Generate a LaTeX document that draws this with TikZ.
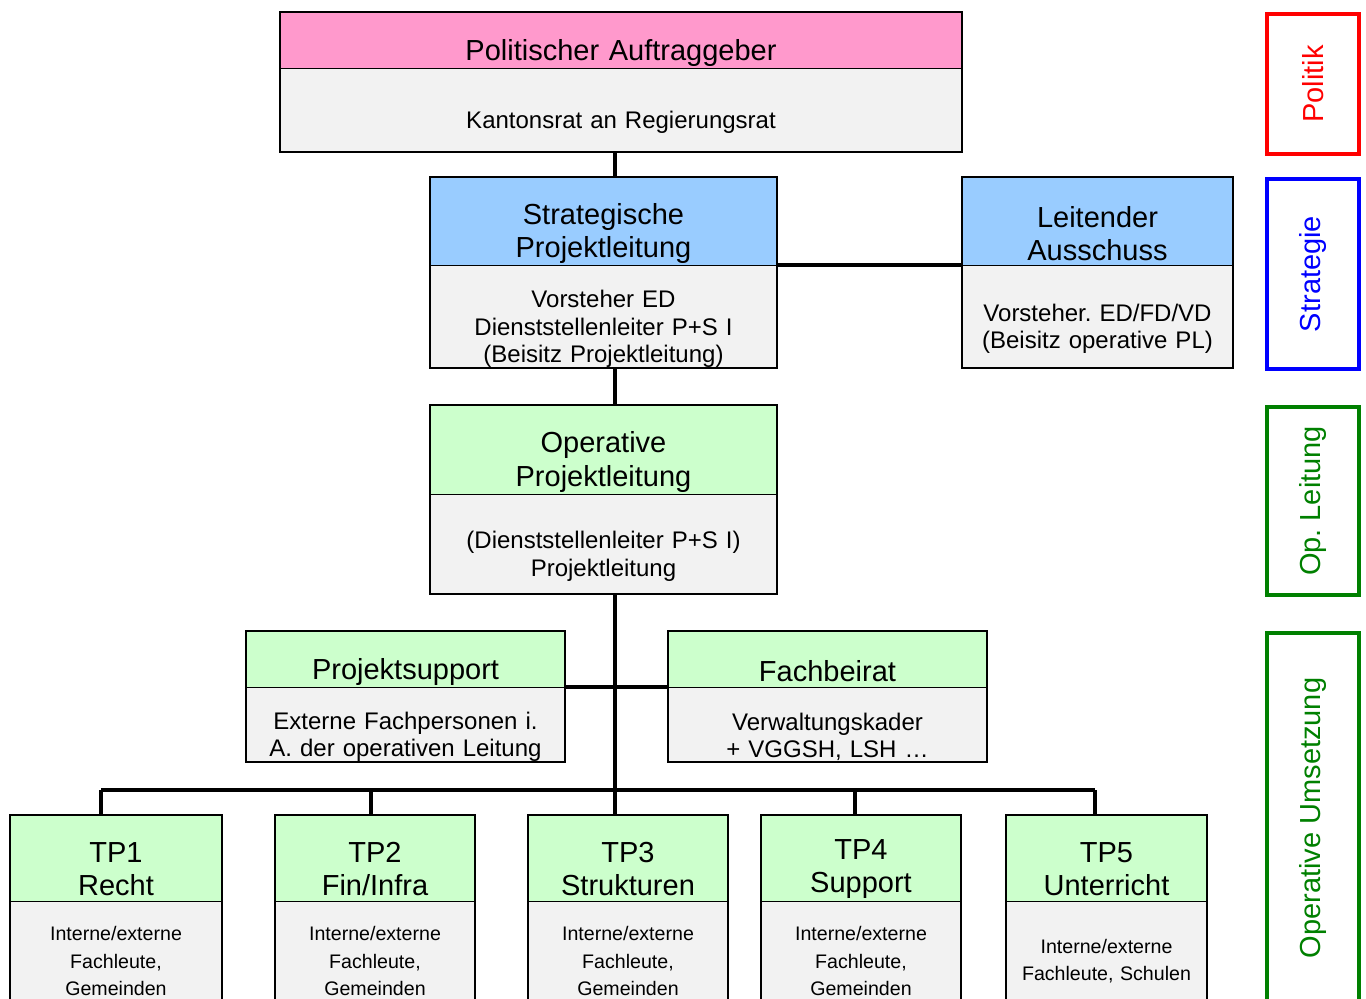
\documentclass[tikz,border=0pt]{standalone}
\usepackage{fontspec}
\setmainfont{Liberation Sans}
\usetikzlibrary{positioning}
\frenchspacing
\definecolor{pinkhd}{HTML}{FF99CC}
\definecolor{bluehd}{HTML}{99CCFF}
\definecolor{greenhd}{HTML}{CCFFCC}
\definecolor{greybd}{HTML}{F2F2F2}
\definecolor{sidegreen}{HTML}{008000}
\newcommand{\bigfont}{\fontsize{14.5}{16.75}\selectfont}
\newcommand{\smallfont}{\fontsize{12}{13.75}\selectfont}
\newcommand{\tpfont}{\fontsize{9.8}{13.75}\selectfont}
\tikzstyle{head}=[rectangle,draw,line width=0.5pt,inner sep=0pt,outer sep=0pt,align=center,font=\bigfont,execute at begin node={\rule{0pt}{23pt}}]
\tikzstyle{tphead}=[rectangle,draw,line width=0.5pt,fill=greenhd,inner sep=0pt,outer sep=0pt,align=center,font=\bigfont,execute at begin node={\rule{0pt}{21pt}}]
\tikzstyle{body}=[rectangle,draw,line width=0.5pt,fill=greybd,inner sep=0pt,outer sep=0pt,align=center,font=\smallfont,execute at begin node={\rule{0pt}{21pt}}]
\tikzstyle{tpbody}=[rectangle,draw,line width=0.5pt,fill=greybd,inner sep=0pt,outer sep=0pt,align=center,font=\tpfont,execute at begin node={\rule{0pt}{12.7pt}}]
\tikzstyle{frame}=[draw,line width=1.25pt]
\tikzstyle{link}=[draw,line width=2pt]
\tikzstyle{side}=[rectangle,draw,line width=2pt,rotate=90,inner sep=0pt,minimum height=46pt,font=\bigfont]

\begin{document}
\begin{tikzpicture}[x=0.5pt, y=-0.5pt]
		
		\useasboundingbox (0,0) rectangle (1366,998);
		\clip (0,0) rectangle (1366,998);
		
		\node (pa) [head, fill=pinkhd, text width=341pt, minimum height=28pt] at (621,40) {Politischer Auftraggeber};
		\node (pa-b) [body, below=0pt of pa, text width=341pt, minimum height=42pt] {Kantonsrat an Regierungsrat};
		
		\node (spl) [head, fill=bluehd, text width=173.5pt, minimum height=44pt] at (603.5,221) {Strategische\\Projektleitung};
		\node (spl-b) [body, below=0pt of spl, text width=173.5pt, minimum height=51.5pt] {Vorsteher ED\\Dienststellenleiter P+S I\\(Beisitz Projektleitung)};
		\node (la) [head, fill=bluehd, text width=135.5pt, minimum height=44pt] at (1097.5,221) {Leitender\\Ausschuss};
		\node (la-b) [body, below=0pt of la, text width=135.5pt, minimum height=51.5pt] {Vorsteher. ED/FD/VD\\(Beisitz operative PL)};
		
		\node (opl) [head, fill=greenhd, text width=173.5pt, minimum height=44.5pt] at (603.5,449.5) {Operative\\Projektleitung};
		\node (opl-b) [body, below=0pt of opl, text width=173.5pt, minimum height=50pt] {(Dienststellenleiter P+S I)\\Projektleitung};
		
		\node (ps) [head, fill=greenhd, text width=159.5pt, minimum height=28pt] at (405.5,659) {Projektsupport};
		\node (ps-b) [body, below=0pt of ps, text width=159.5pt, minimum height=37.5pt] {Externe Fachpersonen i.\\A. der operativen Leitung};
		\node (fb) [head, fill=greenhd, text width=159.5pt, minimum height=28pt] at (827.5,659) {Fachbeirat};
		\node (fb-b) [body, below=0pt of fb, text width=159.5pt, minimum height=37.5pt] {Verwaltungskader\\+ VGGSH, LSH …};
		
		\node (tp1) [tphead, text width=106pt, minimum height=43pt] at (116,858) {TP1\\Recht};
		\node (tp1-b) [tpbody, below=0pt of tp1, text width=106pt, minimum height=54.5pt] {Interne/externe\\Fachleute,\\Gemeinden};
		\node (tp2) [tphead, text width=100pt, minimum height=43pt] at (375,858) {TP2\\Fin/Infra};
		\node (tp2-b) [tpbody, below=0pt of tp2, text width=100pt, minimum height=54.5pt] {Interne/externe\\Fachleute,\\Gemeinden};
		\node (tp3) [tphead, text width=100pt, minimum height=43pt] at (628,858) {TP3\\Strukturen};
		\node (tp3-b) [tpbody, below=0pt of tp3, text width=100pt, minimum height=54.5pt] {Interne/externe\\Fachleute,\\Gemeinden};
		\node (tp4) [tphead, text width=100pt, minimum height=43pt] at (861,858) {TP4\\Support};
		\node (tp4-b) [tpbody, below=0pt of tp4, text width=100pt, minimum height=54.5pt] {Interne/externe\\Fachleute,\\Gemeinden};
		\node (tp5) [tphead, text width=100.5pt, minimum height=43pt] at (1106.5,858) {TP5\\Unterricht};
		\node (tp5-b) [tpbody, below=0pt of tp5, text width=100.5pt, minimum height=54.5pt] {Interne/externe\\Fachleute, Schulen};
		
		\node (politik) [side, draw=red, text=red, minimum width=70pt] at (1313,84) {Politik};
		\node (strategie) [side, draw=blue, text=blue, minimum width=95pt] at (1313,274) {Strategie};
		\node (opleitung) [side, draw=sidegreen, text=sidegreen, minimum width=94pt] at (1313,501) {Op. Leitung};
		\node (umsetzung) [side, draw=sidegreen, text=sidegreen, minimum width=185pt] at (1313,818) {Operative Umsetzung};
		
		\foreach \n in {pa,spl,la,opl,ps,fb,tp1,tp2,tp3,tp4,tp5}
			\draw[frame] (\n.north west) rectangle (\n-b.south east);
		
		\coordinate (trunk) at (615,0);
		\coordinate (d1) at (101,790);
		\coordinate (d2) at (371,790);
		\coordinate (d3) at (615,790);
		\coordinate (d4) at (855,790);
		\coordinate (d5) at (1095,790);
		
		\draw[link] (pa-b.south -| trunk) -- (spl.north -| trunk);
		\draw[link] (spl-b.south -| trunk) -- (opl.north -| trunk);
		\draw[link] (spl.south east) -- (la.south west);
		\draw[link] (opl-b.south -| trunk) -- (d3);
		\draw[link] (ps.south east) -- (fb.south west);
		\draw[link] (d1) -- (d5);
		\foreach \i in {1,...,5}
			\draw[link] (d\i) -- (tp\i.north -| d\i);
		
\end{tikzpicture}
\end{document}
